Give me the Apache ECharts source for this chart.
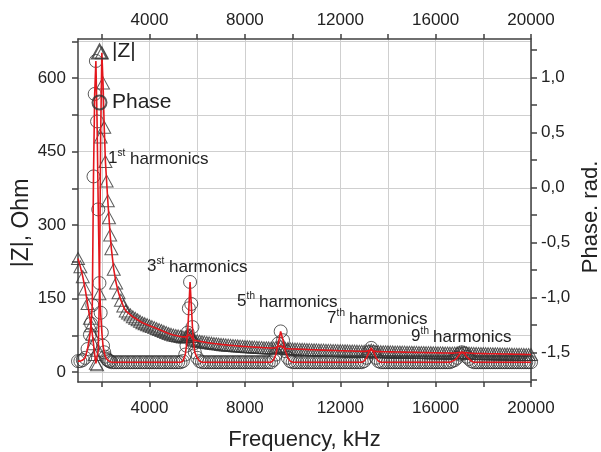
<!DOCTYPE html>
<html>
<head>
<meta charset="utf-8">
<script src="https://cdn.jsdelivr.net/npm/echarts@6/dist/echarts.min.js"></script>
<style>
  html, body { margin: 0; padding: 0; background: #ffffff; }
  #chart { width: 601px; height: 452px; }
</style>
</head>
<body>
<div id="chart"></div>
<script>
// Axis ticks and labels
const freqTicks = [2000, 4000, 6000, 8000, 10000, 12000, 14000, 16000, 18000, 20000];
const freqLabels = [4000, 8000, 12000, 16000, 20000];
const zTicks = [0, 75, 150, 225, 300, 375, 450, 525, 600, 675];
const zLabels = [0, 150, 300, 450, 600];
const phaseTicks = [-1.75, -1.5, -1.25, -1, -0.75, -0.5, -0.25, 0, 0.25, 0.5, 0.75, 1, 1.25];
const phaseLabels = [-1.5, -1, -0.5, 0, 0.5, 1];

// Impedance magnitude |Z| (Ohm) versus frequency (kHz)
const zPoints = [
  [1000,232],[1100,215],[1200,195],[1300,170],[1400,140],[1500,110],
  [1550,95],[1600,78],[1650,58],[1700,36],[1750,18],[1800,15],[1850,45],[1900,160],[1950,480],
  [2000,652],[2050,590],[2100,500],[2150,430],[2200,390],[2250,350],[2300,315],[2350,280],[2400,252],
  [2500,210],[2600,182],[2700,162],[2800,147],[2900,135],[3000,125],[3100,121],[3200,117],[3300,113],
  [3400,110],[3500,107],[3600,104],[3700,101],[3800,99],[3900,97],[4000,95],[4100,93],[4200,91],
  [4300,89],[4400,87],[4500,85],[4600,83],[4700,81],[4800,79],[4900,77.5],[5000,76],[5100,75],
  [5200,74],[5300,73],[5400,72],[5500,72],
  [5550,73],[5600,74],[5650,76],[5700,77],[5750,73],[5800,69],[5850,67],
  [5900,65],[6000,64],[6100,63],[6200,62.2],[6300,61.4],[6400,60.6],[6500,59.9],[6600,59.2],[6700,58.5],
  [6800,57.9],[6900,57.3],[7000,56.7],[7100,56.2],[7200,55.7],[7300,55.2],[7400,54.8],[7500,54.4],
  [7600,54],[7700,53.6],[7800,53.2],[7900,52.8],[8000,52.5],[8100,52.1],[8200,51.8],[8300,51.5],
  [8400,51.2],[8500,50.9],[8600,50.6],[8700,50.3],[8800,50],[8900,49.8],[9000,49.5],[9100,49.3],
  [9200,49.3],[9300,50.5],[9400,52.5],[9500,53.5],[9600,50.5],[9700,48.5],[9800,48],[9900,47.7],
  [10000,47.5],[10100,47.3],[10200,47.1],[10300,46.9],[10400,46.7],[10500,46.5],[10600,46.3],[10700,46.1],
  [10800,45.9],[10900,45.7],[11000,45.5],[11100,45.3],[11200,45.1],[11300,45],[11400,44.8],[11500,44.6],
  [11600,44.5],[11700,44.3],[11800,44.2],[11900,44],[12000,43.9],[12100,43.7],[12200,43.6],[12300,43.4],
  [12400,43.3],[12500,43.2],[12600,43],[12700,42.9],[12800,42.8],[12900,42.6],[13000,42.5],[13100,43],
  [13200,44],[13300,45],[13400,43.5],[13500,42.1],[13600,42],[13700,41.9],[13800,41.8],[13900,41.7],
  [14000,41.6],[14100,41.5],[14200,41.4],[14300,41.3],[14400,41.2],[14500,41.1],[14600,41],[14700,40.9],
  [14800,40.8],[14900,40.7],[15000,40.6],[15100,40.5],[15200,40.4],[15300,40.3],[15400,40.2],[15500,40.1],
  [15600,40],[15700,39.9],[15800,39.8],[15900,39.7],[16000,39.6],[16100,39.5],[16200,39.4],[16300,39.3],
  [16400,39.2],[16500,39.1],[16600,39],[16700,39],[16800,39.2],[16900,39.6],[17000,40.1],[17100,40.4],
  [17200,40.2],[17300,39.7],[17400,39.2],[17500,38.7],[17600,38.4],[17700,38.3],[17800,38.2],[17900,38.1],
  [18000,38],[18100,37.9],[18200,37.8],[18300,37.7],[18400,37.6],[18500,37.5],[18600,37.4],[18700,37.3],
  [18800,37.2],[18900,37.1],[19000,37],[19100,36.9],[19200,36.8],[19300,36.7],[19400,36.6],[19500,36.5],
  [19600,36.4],[19700,36.3],[19800,36.2],[19900,36.1],[20000,36]
];

// Impedance phase (rad) versus frequency (kHz)
const phasePoints = [
  [1000,-1.58],[1100,-1.58],[1200,-1.57],[1300,-1.55],[1400,-1.47],[1500,-1.34],
  [1550,-1.24],[1600,-1.07],[1650,0.1],[1700,0.85],[1750,1.15],[1800,0.6],[1850,-0.2],[1900,-0.87],
  [1950,-1.14],[2000,-1.32],[2050,-1.44],[2100,-1.5],[2150,-1.54],[2200,-1.56],[2250,-1.57],[2300,-1.58],
  [2350,-1.58],[2400,-1.59],
  [2500,-1.59],[2600,-1.59],[2700,-1.59],[2800,-1.59],[2900,-1.59],[3000,-1.59],[3100,-1.59],[3200,-1.59],
  [3300,-1.59],[3400,-1.59],[3500,-1.59],[3600,-1.59],[3700,-1.59],[3800,-1.59],[3900,-1.59],[4000,-1.59],
  [4100,-1.59],[4200,-1.59],[4300,-1.59],[4400,-1.59],[4500,-1.59],[4600,-1.59],[4700,-1.59],[4800,-1.59],
  [4900,-1.59],[5000,-1.59],[5100,-1.59],[5200,-1.59],[5300,-1.59],[5400,-1.58],[5500,-1.52],
  [5550,-1.44],[5600,-1.32],[5650,-1.1],[5700,-0.86],[5750,-1.06],[5800,-1.27],[5850,-1.42],
  [5900,-1.5],[6000,-1.55],[6100,-1.58],[6200,-1.59],[6300,-1.59],[6400,-1.59],[6500,-1.59],[6600,-1.59],
  [6700,-1.59],[6800,-1.59],[6900,-1.59],[7000,-1.59],[7100,-1.59],[7200,-1.59],[7300,-1.59],[7400,-1.59],
  [7500,-1.59],[7600,-1.59],[7700,-1.59],[7800,-1.59],[7900,-1.59],[8000,-1.59],[8100,-1.59],[8200,-1.59],
  [8300,-1.59],[8400,-1.59],[8500,-1.59],[8600,-1.59],[8700,-1.59],[8800,-1.59],[8900,-1.59],[9000,-1.59],
  [9100,-1.59],[9200,-1.57],[9300,-1.52],[9400,-1.42],[9500,-1.31],[9600,-1.39],[9700,-1.49],[9800,-1.55],
  [9900,-1.58],[10000,-1.59],[10100,-1.59],[10200,-1.59],[10300,-1.59],[10400,-1.59],[10500,-1.59],
  [10600,-1.59],[10700,-1.59],[10800,-1.59],[10900,-1.59],[11000,-1.59],[11100,-1.59],[11200,-1.59],
  [11300,-1.59],[11400,-1.59],[11500,-1.59],[11600,-1.59],[11700,-1.59],[11800,-1.59],[11900,-1.59],
  [12000,-1.59],[12100,-1.59],[12200,-1.59],[12300,-1.59],[12400,-1.59],[12500,-1.59],[12600,-1.59],
  [12700,-1.59],[12800,-1.59],[12900,-1.59],[13000,-1.58],[13100,-1.55],[13200,-1.5],[13300,-1.46],
  [13400,-1.5],[13500,-1.55],[13600,-1.58],[13700,-1.59],[13800,-1.59],[13900,-1.59],[14000,-1.59],
  [14100,-1.59],[14200,-1.59],[14300,-1.59],[14400,-1.59],[14500,-1.59],[14600,-1.59],[14700,-1.59],
  [14800,-1.59],[14900,-1.59],[15000,-1.59],[15100,-1.59],[15200,-1.59],[15300,-1.59],[15400,-1.59],
  [15500,-1.59],[15600,-1.59],[15700,-1.59],[15800,-1.59],[15900,-1.59],[16000,-1.59],[16100,-1.59],
  [16200,-1.59],[16300,-1.59],[16400,-1.59],[16500,-1.59],[16600,-1.59],[16700,-1.58],[16800,-1.57],
  [16900,-1.55],[17000,-1.52],[17100,-1.5],[17200,-1.51],[17300,-1.54],[17400,-1.56],[17500,-1.58],
  [17600,-1.59],[17700,-1.59],[17800,-1.59],[17900,-1.59],[18000,-1.59],[18100,-1.59],[18200,-1.59],
  [18300,-1.59],[18400,-1.59],[18500,-1.59],[18600,-1.59],[18700,-1.59],[18800,-1.59],[18900,-1.59],
  [19000,-1.59],[19100,-1.59],[19200,-1.59],[19300,-1.59],[19400,-1.59],[19500,-1.59],[19600,-1.59],
  [19700,-1.59],[19800,-1.59],[19900,-1.59],[20000,-1.59]
];

// Resonance annotations
const harmonicNotes = [
  { num: '1', sup: 'st', x: 108, y: 158 },
  { num: '3', sup: 'st', x: 147, y: 266 },
  { num: '5', sup: 'th', x: 237, y: 301 },
  { num: '7', sup: 'th', x: 327, y: 318 },
  { num: '9', sup: 'th', x: 411, y: 336 }
];

const FONT = '"Liberation Sans", Arial, Helvetica, sans-serif';
const INK = '#222222';
const AXIS = '#404040';
const GRID = '#cfcfcf';
const RED = '#e3161c';
const MARK = '#333333';

function titleGraphics() {
  // Vertical axis titles, reading bottom to top
  return [
    { type: 'text', x: 22, y: 223, rotation: Math.PI / 2, z: 100,
      style: { text: '|Z|, Ohm', font: '23px ' + FONT, fill: INK, align: 'center', verticalAlign: 'middle' } },
    { type: 'text', x: 591, y: 217, rotation: Math.PI / 2, z: 100,
      style: { text: 'Phase. rad.', font: '22px ' + FONT, fill: INK, align: 'center', verticalAlign: 'middle' } }
  ];
}

function noteGraphics() {
  const items = [];
  harmonicNotes.forEach(n => {
    items.push({ type: 'text', x: n.x, y: n.y, z: 100,
      style: { text: n.num, font: '17px ' + FONT, fill: INK, verticalAlign: 'middle' } });
    items.push({ type: 'text', x: n.x + 9.6, y: n.y - 5, z: 100,
      style: { text: n.sup, font: '10px ' + FONT, fill: INK, verticalAlign: 'middle' } });
    items.push({ type: 'text', x: n.x + 22, y: n.y + 1, z: 100,
      style: { text: 'harmonics', font: '17px ' + FONT, fill: INK, verticalAlign: 'middle' } });
  });
  return items;
}

const plainNumber = v => String(Math.round(v));

const xCommon = {
  type: 'value', min: 1000, max: 20000,
  axisLine: { show: true, onZero: false, lineStyle: { color: AXIS, width: 1.5 } },
  axisTick: { show: true, length: 5, customValues: freqTicks, lineStyle: { color: AXIS, width: 1.5 } },
  axisLabel: { customValues: freqLabels, fontSize: 17, color: INK, fontFamily: FONT, formatter: plainNumber }
};

const chart = echarts.init(document.getElementById('chart'), null, { renderer: 'canvas' });
chart.setOption({
  animation: false,
  backgroundColor: '#ffffff',
  grid: { left: 78, top: 39, width: 453, height: 343, containLabel: false, outerBoundsMode: 'none' },
  legend: {
    orient: 'vertical', left: 86, top: 36, itemGap: 30, itemWidth: 15, itemHeight: 14,
    selectedMode: false,
    textStyle: { fontSize: 21, color: INK, fontFamily: FONT },
    data: ['|Z|', 'Phase']
  },
  xAxis: [
    Object.assign({}, xCommon, {
      position: 'bottom',
      axisLabel: Object.assign({}, xCommon.axisLabel, { margin: 18 }),
      splitLine: { show: true, lineStyle: { color: GRID, width: 1 } },
      name: 'Frequency, kHz', nameLocation: 'middle', nameGap: 47,
      nameTextStyle: { fontSize: 22, color: INK, fontFamily: FONT }
    }),
    Object.assign({}, xCommon, {
      position: 'top',
      axisLabel: Object.assign({}, xCommon.axisLabel, { margin: 10 }),
      splitLine: { show: false }
    })
  ],
  yAxis: [
    {
      type: 'value', position: 'left', min: -20, max: 680,
      axisLine: { show: true, onZero: false, lineStyle: { color: AXIS, width: 1.5 } },
      axisTick: { show: true, length: 6, customValues: zTicks, lineStyle: { color: AXIS, width: 1.5 } },
      axisLabel: { customValues: zLabels, fontSize: 17, color: INK, fontFamily: FONT, margin: 12, formatter: plainNumber },
      splitLine: { show: true, lineStyle: { color: GRID, width: 1 } }
    },
    {
      type: 'value', position: 'right', min: -1.77, max: 1.35,
      axisLine: { show: true, onZero: false, lineStyle: { color: AXIS, width: 1.5 } },
      axisTick: { show: true, length: 6, customValues: phaseTicks, lineStyle: { color: AXIS, width: 1.5 } },
      axisLabel: {
        customValues: phaseLabels, fontSize: 17, color: INK, fontFamily: FONT, margin: 10,
        formatter: v => v.toFixed(1).replace('.', ',')
      },
      splitLine: { show: false }
    }
  ],
  graphic: titleGraphics().concat(noteGraphics()),
  series: [
    {
      name: '|Z|', type: 'scatter', xAxisIndex: 0, yAxisIndex: 0,
      symbol: 'triangle', symbolSize: [13, 12], data: zPoints, z: 2,
      itemStyle: { color: 'rgba(255,255,255,0)', borderColor: MARK, borderWidth: 1 }
    },
    {
      name: 'Phase', type: 'scatter', xAxisIndex: 0, yAxisIndex: 1,
      symbol: 'circle', symbolSize: 13, data: phasePoints, z: 2,
      itemStyle: { color: 'rgba(255,255,255,0)', borderColor: MARK, borderWidth: 1 }
    },
    {
      name: 'zFit', type: 'line', xAxisIndex: 0, yAxisIndex: 0, data: zPoints, z: 3,
      showSymbol: false, symbol: 'none', lineStyle: { color: RED, width: 1.6 }
    },
    {
      name: 'phaseFit', type: 'line', xAxisIndex: 0, yAxisIndex: 1, data: phasePoints, z: 3,
      showSymbol: false, symbol: 'none', lineStyle: { color: RED, width: 1.6 }
    }
  ]
});
</script>
</body>
</html>
